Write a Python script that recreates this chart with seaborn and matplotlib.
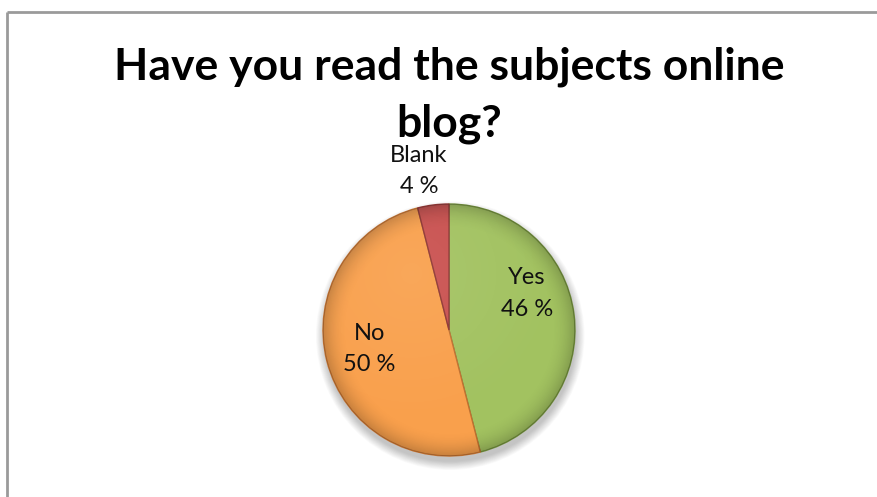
import numpy as np
import matplotlib
matplotlib.use("Agg")
import matplotlib.pyplot as plt
import seaborn as sns
from matplotlib.patches import Circle, Ellipse

categories = ["Yes", "No", "Blank"]
values = [46, 50, 4]
pct_labels = ["46 %", "50 %", "4 %"]
title_lines = ["Have you read the subjects online", "blog?"]

colors = ["#A2C260", "#F9A04C", "#C9504E"]
edge_colors = ["#6E8A3A", "#C07030", "#8E3533"]

sns.set_theme(style="white")
plt.rcParams["font.family"] = ["Lato", "DejaVu Sans"]

W, H = 877, 497
fig = plt.figure(figsize=(W / 100, H / 100), dpi=100)
fig.patch.set_facecolor("white")

# border (top and left)
border = fig.add_axes([0, 0, 1, 1], zorder=-5)
border.set_xlim(0, W)
border.set_ylim(H, 0)
border.axis("off")
border.plot([7, W], [11.5, 11.5], color="#9A9A9A", lw=2, solid_capstyle="butt")
border.plot([7, 7], [11.5, H], color="#9A9A9A", lw=2, solid_capstyle="butt")

cx, cy, R = 449, 330, 126
ax = fig.add_axes([(cx - R) / W, (H - cy - R) / H, 2 * R / W, 2 * R / H])

# soft shadow
for i in range(12):
    s = 1.0 + 0.006 * i
    ax.add_patch(Ellipse((0.01, -0.045), 2 * s, 2 * s, facecolor="black",
                         alpha=0.018, edgecolor="none", zorder=0, clip_on=False))

wedges, _ = ax.pie(values, colors=colors, startangle=90, counterclock=False,
                   radius=1.0, wedgeprops=dict(linewidth=1.0))
for w, ec in zip(wedges, edge_colors):
    w.set_edgecolor(ec)
    w.set_zorder(2)

# subtle radial shading overlay
n = 400
yy, xx = np.mgrid[1:-1:n * 1j, -1:1:n * 1j]
rr = np.sqrt(xx ** 2 + yy ** 2)
shade = np.zeros((n, n, 4))
shade[..., 3] = np.clip((rr - 0.8) / 0.2, 0, 1) ** 2 * 0.2
im = ax.imshow(shade, extent=(-1, 1, -1, 1), zorder=3, interpolation="bilinear")
im.set_clip_path(Circle((0, 0), 1.0, transform=ax.transData))
hl = np.zeros((n, n, 4))
hl[..., :3] = 1.0
hl[..., 3] = np.clip(0.08 * (1 - np.sqrt((xx + 0.3) ** 2 + (yy - 0.45) ** 2) / 1.2), 0, 0.08)
im2 = ax.imshow(hl, extent=(-1, 1, -1, 1), zorder=3, interpolation="bilinear")
im2.set_clip_path(Circle((0, 0), 1.0, transform=ax.transData))

ax.set_xlim(-1, 1)
ax.set_ylim(-1, 1)
ax.set_aspect("equal")
ax.axis("off")

# labels (positions in pie radius units)
label_pos = [(0.62, 0.29), (-0.63, -0.15), (-0.24, 1.26)]
for (x, y), cat, pct in zip(label_pos, categories, pct_labels):
    ax.text(x, y, f"{cat}\n{pct}", ha="center", va="center", fontsize=17,
            color="#111111", linespacing=1.6, zorder=5)

fig.text(cx / W, 1 - 67 / H, title_lines[0], ha="center",
         va="center", fontsize=32, fontweight="bold", color="black")
fig.text(cx / W, 1 - 124 / H, title_lines[1], ha="center", va="center", fontsize=32,
         fontweight="bold", color="black")

fig.savefig("out.png", dpi=100, facecolor="white")
